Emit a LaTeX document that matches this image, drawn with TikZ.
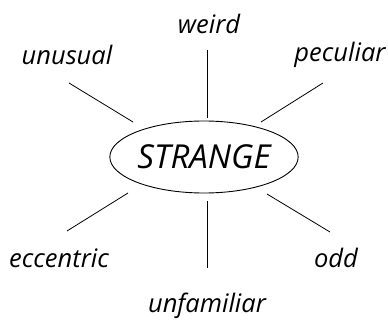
\documentclass[tikz,border=0pt]{standalone}
\usepackage{fontspec}
\setmainfont{Open Sans}
\usetikzlibrary{shapes.geometric}
\begin{document}
\begin{tikzpicture}[x=1pt,y=-1pt,
  lbl/.style={font=\fontsize{25.5}{28}\selectfont\itshape, inner sep=0pt},
  spoke/.style={line width=0.8pt}]
\useasboundingbox (0,0) rectangle (388,323);
\node[ellipse, draw, line width=0.9pt, minimum width=178pt, minimum height=72pt, inner sep=0pt,
  font=\fontsize{33}{36}\selectfont\itshape] (s) at (204,157) {STRANGE};
\node[lbl] (weird) at (209,24) {weird};
\node[lbl] (unusual) at (67,55) {unusual};
\node[lbl] (peculiar) at (340,55) {peculiar};
\node[lbl] (eccentric) at (59,258) {eccentric};
\node[lbl] (odd) at (336,258) {odd};
\node[lbl] (unfamiliar) at (207,306) {unfamiliar};
\coordinate (w1) at (207,50);  \coordinate (w2) at (207,118);
\coordinate (u1) at (69,83);   \coordinate (u2) at (133,122);
\coordinate (p1) at (323,83);  \coordinate (p2) at (261,122);
\coordinate (e1) at (67,231);  \coordinate (e2) at (128,193);
\coordinate (f1) at (207,268); \coordinate (f2) at (207,201);
\coordinate (o1) at (330,232); \coordinate (o2) at (267,194);
\draw[spoke] (w1) -- (w2);
\draw[spoke] (u1) -- (u2);
\draw[spoke] (p1) -- (p2);
\draw[spoke] (e1) -- (e2);
\draw[spoke] (f1) -- (f2);
\draw[spoke] (o1) -- (o2);
\end{tikzpicture}
\end{document}
